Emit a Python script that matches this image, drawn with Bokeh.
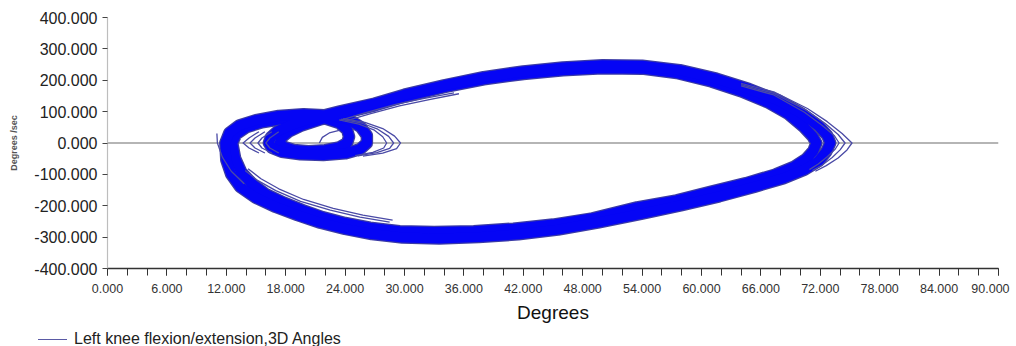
from bokeh.plotting import figure
from bokeh.layouts import column
from bokeh.models import (Range1d, FixedTicker, NumeralTickFormatter, Span, Div)
from bokeh.embed import file_html
from bokeh.resources import INLINE

# ---------------- data ----------------
# knee flexion angle (deg) vs angular velocity (deg/s)
# stride A: inner edge of the dense band of overlaid strides
stride_a_angle = [12.6, 13.0, 14.0, 15.6, 17.8, 20.0, 22.0, 23.4, 24.2, 24.4,
                  24.2, 23.4, 22.0, 20.3, 18.8, 17.8, 17.4, 17.6, 18.3, 19.6,
                  21.6, 24.2, 27.0, 30.0, 34.0, 38.0, 42.0, 46.0, 50.0, 54.0,
                  57.5, 61.0, 64.0, 66.8, 68.8, 70.3, 71.2, 71.6, 71.3, 70.6,
                  69.4, 67.5, 64.5, 61.0, 57.5, 53.5, 49.0, 45.0, 41.0, 37.0,
                  33.0, 29.5, 26.5, 24.0, 21.7, 19.7, 17.8, 16.0, 14.6, 13.5,
                  12.9, 12.6]
stride_a_velocity = [0, 28, 50, 66, 77, 82, 78, 64, 42, 20,
                     0, -14, -23, -26, -22, -12, 0, 18, 36, 56,
                     76, 98, 120, 148, 178, 203, 220, 232, 238, 237,
                     223, 196, 165, 128, 92, 52, 22, 0, -25, -50,
                     -75, -100, -128, -155, -183, -205, -240, -260, -273, -281,
                     -284, -281, -270, -255, -236, -214, -190, -163, -130, -92,
                     -50, 0]
# stride B: outer edge of the dense band
stride_b_angle = [11.9, 12.3, 13.3, 15.0, 17.3, 19.8, 22.4, 24.4, 25.6, 26.2,
                  26.2, 25.5, 24.0, 21.8, 19.5, 17.6, 16.6, 16.3, 16.5, 17.2,
                  18.6, 20.6, 23.4, 27.0, 30.0, 34.0, 38.0, 42.0, 46.0, 50.0,
                  54.0, 57.8, 61.5, 64.8, 67.8, 70.0, 71.8, 72.7, 73.0, 72.6,
                  71.8, 70.4, 68.3, 65.3, 61.8, 58.0, 54.0, 49.5, 45.5, 41.5,
                  37.5, 33.5, 29.8, 26.7, 24.0, 21.5, 19.2, 17.0, 15.0, 13.4,
                  12.5, 12.0, 11.9]
stride_b_velocity = [0, 32, 56, 73, 86, 92, 88, 74, 50, 24,
                     0, -20, -33, -38, -36, -28, -15, 0, 18, 38,
                     58, 78, 100, 126, 154, 184, 210, 228, 241, 248,
                     246, 232, 205, 172, 135, 96, 55, 24, 0, -28,
                     -58, -85, -112, -140, -170, -198, -225, -254, -276, -291,
                     -300, -304, -301, -290, -274, -254, -230, -204, -175, -140,
                     -100, -54, 0]

# single strides visible as thin lines at the edges of the band
tip_angles = [
    [64.0, 67.3, 70.7, 72.7, 74.2, 75.2, 74.7, 73.8, 72.6, 71.5],
    [64.0, 67.3, 70.6, 72.5, 73.8, 74.5, 74.0, 73.2, 72.2, 71.2],
    [64.0, 67.3, 70.4, 72.2, 73.4, 73.9, 73.5, 72.7, 71.8, 70.9],
]
tip_velocities = [
    [190, 163, 110, 68, 30, 0, -22, -48, -72, -90],
    [186, 158, 104, 62, 27, 0, -22, -46, -70, -88],
    [182, 153, 98, 56, 24, 0, -20, -44, -67, -85],
]
loop_angles = [
    [23.8, 26.0, 27.8, 29.0, 29.6, 29.2, 27.8, 25.8],
    [23.6, 25.7, 27.3, 28.4, 28.9, 28.5, 27.2, 25.3],
    [23.4, 25.4, 26.9, 27.8, 28.2, 27.9, 26.8, 25.0],
    [15.3, 14.3, 13.7, 14.3, 15.3],
    [15.9, 14.9, 14.4, 14.9, 15.9],
    [16.6, 15.6, 15.2, 15.6, 16.6],
    [17.3, 16.4, 16.0, 16.4, 17.3],
    [21.4, 21.7, 22.4, 23.4],
]
loop_velocities = [
    [78, 66, 46, 22, 0, -18, -32, -42],
    [76, 63, 44, 21, 0, -17, -31, -41],
    [74, 60, 42, 20, 0, -16, -30, -40],
    [36, 16, 0, -16, -32],
    [36, 16, 0, -16, -32],
    [36, 16, 0, -16, -32],
    [36, 16, 0, -16, -32],
    [0, 18, 32, 40],
]
edge_angles = [
    [11.05, 11.1, 11.6, 12.5, 13.8],
    [13.9, 15.2, 17.0, 19.5, 22.5, 25.5, 28.5],
    [14.2, 15.5, 17.3, 19.8, 22.8, 25.8, 28.8],
    [23.5, 26.0, 29.0, 32.0, 35.0],
    [24.0, 26.5, 29.5, 32.5, 35.5],
]
edge_velocities = [
    [30, 0, -45, -90, -130],
    [-88, -120, -152, -186, -214, -236, -252],
    [-82, -114, -146, -180, -208, -230, -246],
    [72, 96, 122, 142, 160],
    [70, 93, 118, 138, 157],
]

x_major = list(range(0, 91, 6))
x_minor = list(range(0, 91, 2))
y_major = list(range(-400, 401, 100))
# the last x label is padded with no-break spaces so it is drawn a little to
# the left of its tick, as in the original, and stays inside the page
last_x_label = "90.000\u00a0\u00a0"
series_name = "Left knee flexion/extension,3D Angles"

label_font = "Liberation Sans"
band_color = "#0505f5"
band_edge_color = "#3b3ba6"
trace_color = "#4a4aa6"
key_color = "#5a5aa5"

# ---------------- main figure ----------------
p = figure(width=1016, height=326, output_backend="svg", toolbar_location=None,
           x_range=Range1d(0, 90), y_range=Range1d(-400, 400),
           min_border_left=107, min_border_right=18, min_border_top=17,
           min_border_bottom=58)
p.outline_line_color = None
p.grid.visible = False
p.background_fill_color = "white"
p.border_fill_color = "white"

p.add_layout(Span(location=0, dimension="width", line_color="#9c9c9c",
                  line_width=1.5, level="underlay"))

dense_x = [stride_a_angle, stride_b_angle]
dense_y = [stride_a_velocity, stride_b_velocity]
p.multi_line(dense_x, dense_y, line_color=band_edge_color, line_width=12.5,
             line_join="round", line_cap="round")
p.multi_line(dense_x, dense_y, line_color=band_color, line_width=10,
             line_join="round", line_cap="round")

p.multi_line(tip_angles + loop_angles + edge_angles,
             tip_velocities + loop_velocities + edge_velocities,
             line_color=trace_color, line_width=1.3, line_join="round")

xa = p.xaxis[0]
xa.ticker = FixedTicker(ticks=x_major, minor_ticks=x_minor)
xa.formatter = NumeralTickFormatter(format="0.000")
xa.major_label_overrides = {90: last_x_label}
xa.axis_line_color = "#333333"
xa.axis_line_width = 1.5
xa.major_tick_line_color = "#333333"
xa.minor_tick_line_color = "#333333"
xa.major_tick_in = 0
xa.major_tick_out = 7
xa.minor_tick_in = 0
xa.minor_tick_out = 7
xa.major_label_standoff = 6
xa.major_label_text_font = label_font
xa.major_label_text_font_size = "12.5px"
xa.major_label_text_color = "#333333"
xa.axis_label = "Degrees"
xa.axis_label_text_font = label_font
xa.axis_label_text_font_size = "19px"
xa.axis_label_text_font_style = "normal"
xa.axis_label_text_color = "#111111"
xa.axis_label_standoff = 3

ya = p.yaxis[0]
ya.ticker = FixedTicker(ticks=y_major, minor_ticks=[])
ya.formatter = NumeralTickFormatter(format="0.000")
ya.axis_line_color = "#bdbdbd"
ya.axis_line_width = 1.2
ya.major_tick_line_color = "#444444"
ya.major_tick_in = 0
ya.major_tick_out = 5
ya.minor_tick_out = 0
ya.minor_tick_in = 0
ya.major_label_standoff = 5
ya.major_label_text_font = label_font
ya.major_label_text_font_size = "16px"
ya.major_label_text_color = "#222222"
ya.axis_label = "Degrees /sec"
ya.axis_label_text_font = label_font
ya.axis_label_text_font_size = "9px"
ya.axis_label_text_font_style = "bold"
ya.axis_label_text_color = "#555555"
ya.axis_label_standoff = 12

# ---------------- legend strip (line key + series name) ----------------
legend_html = (
    '<div style="display:flex;align-items:center;height:20px;'
    'padding-top:6px;box-sizing:border-box;background:white;">'
    '<span style="display:inline-block;width:29px;height:0;'
    f'border-top:1.8px solid {key_color};margin-left:38px;"></span>'
    f'<span style="margin-left:7px;font-family:\'{label_font}\';'
    'font-size:16px;color:#222222;white-space:nowrap;line-height:14px;">'
    f'{series_name}</span></div>'
)
legend_strip = Div(text=legend_html, width=1016, height=20, margin=0)

page = column(p, legend_strip, spacing=0)
open("out.html", "w").write(file_html(page, INLINE))
